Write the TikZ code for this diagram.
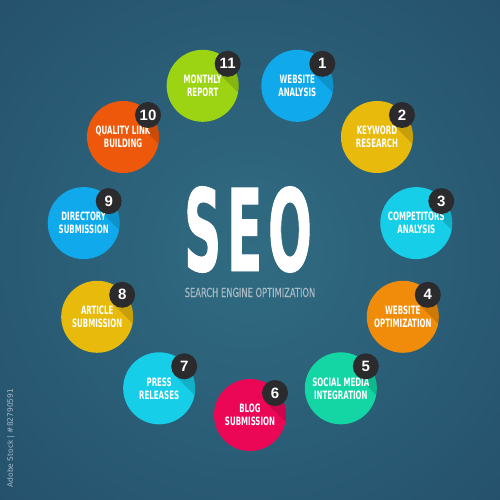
\documentclass[tikz,border=0pt]{standalone}
\usepackage{fontspec}
\setmainfont{DejaVu Sans}
\newfontfamily\labelfont{DejaVu Sans Condensed}[FakeStretch=0.68]
\newfontfamily\seofont{DejaVu Sans Condensed}[FakeStretch=0.5, FakeBold=0.8]
\newfontfamily\subfont{DejaVu Sans Condensed}[FakeStretch=0.74, FakeBold=0.3]
\newfontfamily\numfont{Liberation Sans}
\usetikzlibrary{calc}
\definecolor{bgin}{RGB}{48,108,130}
\definecolor{bgout}{RGB}{33,70,100}
\definecolor{badgegray}{RGB}{43,43,46}
\definecolor{subgray}{RGB}{170,186,196}
\definecolor{cblue}{RGB}{16,170,236}
\definecolor{cyellow}{RGB}{232,186,12}
\definecolor{ccyan}{RGB}{22,206,232}
\definecolor{corange}{RGB}{240,140,10}
\definecolor{cteal}{RGB}{20,214,164}
\definecolor{cpink}{RGB}{236,6,86}
\definecolor{cred}{RGB}{238,88,10}
\definecolor{cgreen}{RGB}{156,212,20}
\pgfdeclareradialshading{bgglow}{\pgfpoint{0bp}{0bp}}{color(0bp)=(bgin); color(50bp)=(bgout)}

\begin{document}
\begin{tikzpicture}[x=1pt, y=-1pt,
	bubble/.style={circle, minimum size=72pt, inner sep=0pt,
		path picture={
			% long shadow of the number badge
			\fill[black, opacity=.14]
			([shift={(15.8pt,12.8pt)}]path picture bounding box.center)
			-- ++(49.5pt,-49.5pt) -- ++(18.4pt,18.4pt) -- ++(-49.5pt,49.5pt) -- cycle;
		}},
	bubtext/.style={text=white, font=\labelfont\bfseries\fontsize{11.5}{13}\selectfont,
		align=center, inner sep=0pt},
	badge/.style={circle, fill=badgegray, minimum size=26pt, inner sep=0pt,
		text=white, font=\numfont\bfseries\fontsize{15}{15}\selectfont}]
\useasboundingbox (0,0) rectangle (500,500);
%========================
% background
%========================
\shade[shading=bgglow] (0,0) rectangle (500,500);
\node[rotate=90, text=white, opacity=.6, font=\fontsize{7.5}{8}\selectfont] (stock) at (11,438) {Adobe Stock | \#82790591};

%========================
% centre title
%========================
\node[anchor=base, text=white, inner sep=0pt, font=\seofont\bfseries\fontsize{114}{114}\selectfont] (seo) at (248,271) {S\hspace{6pt}E\hspace{6pt}O};
\node[anchor=base, text=subgray, inner sep=0pt, font=\subfont\fontsize{12.5}{13}\selectfont] (sub) at (250,297) {SEARCH ENGINE OPTIMIZATION};

%========================
% ring of eleven steps
%========================
\foreach \i/\col/\txt in {
	1/cblue/{WEBSITE\\ANALYSIS},
	2/cyellow/{KEYWORD\\RESEARCH},
	3/ccyan/{COMPETITORS\\ANALYSIS},
	4/corange/{WEBSITE\\OPTIMIZATION},
	5/cteal/{SOCIAL MEDIA\\INTEGRATION},
	6/cpink/{BLOG\\SUBMISSION},
	7/ccyan/{PRESS\\RELEASES},
	8/cyellow/{ARTICLE\\SUBMISSION},
	9/cblue/{DIRECTORY\\SUBMISSION},
	10/cred/{QUALITY LINK\\BUILDING},
	11/cgreen/{MONTHLY\\REPORT}} {
	\pgfmathsetmacro\ang{-90+(6-\i)*360/11}
	\node[bubble, fill=\col] (c\i) at ({250+168*cos(\ang)},{247-168*sin(\ang)}) {};
	\node[bubtext] (t\i) at (c\i.center) {\txt};
	\node[badge] (b\i) at ([shift={(25pt,22pt)}]c\i.center) {\i};
}
\end{tikzpicture}
\end{document}
